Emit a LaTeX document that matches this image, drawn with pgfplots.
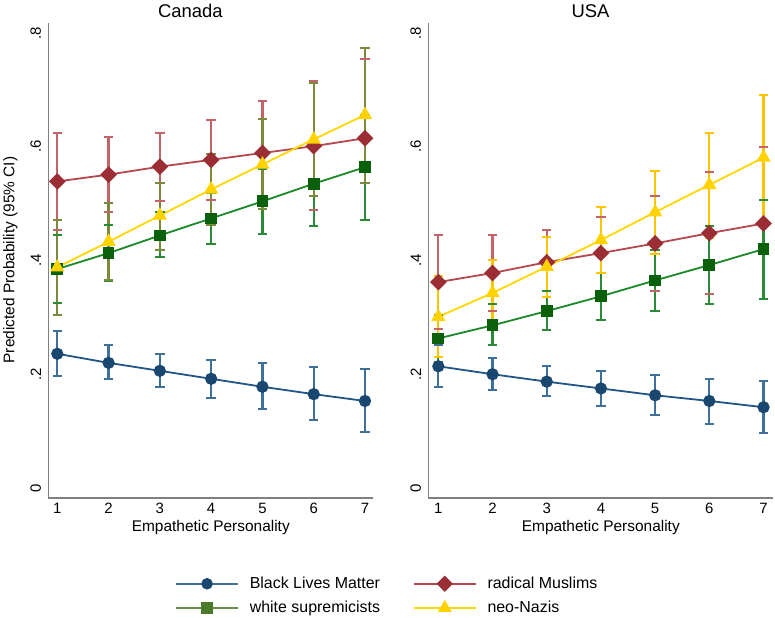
\documentclass[border=0pt]{standalone}
\usepackage{pgfplots}
\usepackage{pgfplotstable}
\pgfplotsset{compat=1.18}
\usepackage{fontspec}
\setmainfont{Liberation Sans}

\definecolor{blmM}{HTML}{1A476F}
\definecolor{blmL}{HTML}{1F5685}
\definecolor{blmC}{HTML}{3F7099}
\definecolor{redM}{HTML}{9B2D35}
\definecolor{redL}{HTML}{B5474F}
\definecolor{redC}{HTML}{C2646A}
\definecolor{grnM}{HTML}{0B600B}
\definecolor{grnL}{HTML}{1A8A26}
\definecolor{grnC}{HTML}{2A8A35}
\definecolor{grnLeg}{HTML}{4A7A2A}
\definecolor{yelM}{HTML}{FFD200}
\definecolor{yelL}{HTML}{FFD700}
\definecolor{yelCca}{HTML}{7A8A3A}
\definecolor{yelCus}{HTML}{FFC400}
\definecolor{axgray}{HTML}{808080}

% Canada
\pgfplotstableread{
x y lo hi
1 0.236 0.197 0.276
2 0.220 0.191 0.251
3 0.206 0.177 0.235
4 0.192 0.159 0.225
5 0.178 0.139 0.219
6 0.165 0.119 0.213
7 0.153 0.099 0.209
}\caBLM
\pgfplotstableread{
x y lo hi
1 0.539 0.453 0.625
2 0.551 0.485 0.618
3 0.565 0.504 0.625
4 0.577 0.507 0.647
5 0.589 0.499 0.680
6 0.601 0.488 0.716
7 0.615 0.472 0.755
}\caRM
\pgfplotstableread{
x y lo hi
1 0.385 0.325 0.445
2 0.413 0.364 0.462
3 0.444 0.406 0.485
4 0.474 0.429 0.519
5 0.504 0.447 0.561
6 0.535 0.460 0.610
7 0.564 0.472 0.656
}\caWS
\pgfplotstableread{
x y lo hi
1 0.388 0.304 0.472
2 0.433 0.365 0.501
3 0.479 0.418 0.537
4 0.525 0.462 0.588
5 0.569 0.490 0.648
6 0.613 0.513 0.712
7 0.656 0.537 0.773
}\caNN
% USA
\pgfplotstableread{
x y lo hi
1 0.214 0.177 0.251
2 0.200 0.172 0.229
3 0.187 0.161 0.214
4 0.175 0.145 0.205
5 0.163 0.129 0.198
6 0.153 0.113 0.192
7 0.142 0.096 0.188
}\usBLM
\pgfplotstableread{
x y lo hi
1 0.362 0.280 0.444
2 0.378 0.312 0.444
3 0.397 0.336 0.454
4 0.413 0.347 0.477
5 0.430 0.347 0.513
6 0.448 0.341 0.556
7 0.465 0.332 0.600
}\usRM
\pgfplotstableread{
x y lo hi
1 0.263 0.221 0.305
2 0.286 0.251 0.323
3 0.311 0.277 0.346
4 0.337 0.296 0.378
5 0.365 0.311 0.418
6 0.392 0.323 0.461
7 0.420 0.333 0.507
}\usWS
\pgfplotstableread{
x y lo hi
1 0.301 0.230 0.372
2 0.343 0.285 0.401
3 0.389 0.336 0.442
4 0.436 0.378 0.494
5 0.485 0.412 0.557
6 0.533 0.440 0.625
7 0.581 0.470 0.691
}\usNN

\pgfplotsset{
  ci/.style={draw=none, forget plot,
    error bars/y dir=both, error bars/y explicit,
    error bars/error mark=none,
    error bars/error bar style={draw=#1, line width=2.2bp, solid}},
  cap/.style={only marks, forget plot, mark=-, mark size=4.7bp,
    mark options={draw=#1, line width=2bp, solid}},
  blm/.style={color=blmL, line width=1.8bp, mark=*, mark size=5.2bp,
    mark options={fill=blmM, draw=blmM, solid}, forget plot},
  rm/.style={color=redL, line width=1.8bp, mark=square*, mark size=5bp,
    mark options={fill=redM, draw=redM, solid, rotate=45}, forget plot},
  ws/.style={color=grnL, line width=1.8bp, mark=square*, mark size=5bp,
    mark options={fill=grnM, draw=grnM, solid}, forget plot},
  nn/.style={color=yelL, line width=1.8bp, mark=triangle*, mark size=6.5bp,
    mark options={fill=yelM, draw=yelM, solid}, forget plot},
  panel/.style={
    scale only axis, height=475bp,
    ymin=-0.0176, ymax=0.8176,
    axis x line*=bottom, axis y line*=left,
    axis line style={-, color=axgray, line width=1.3bp},
    xtick={1,2,3,4,5,6,7}, xticklabels={1,2,3,4,5,6,7},
    ytick={0,0.2,0.4,0.6,0.8}, yticklabels={0,.2,.4,.6,.8},
    major tick length=0pt,
    tick label style={font=\fontsize{15}{18}\selectfont, black},
    xticklabel style={inner sep=0pt, anchor=north},
    xticklabel shift=5bp,
    yticklabel style={rotate=90, anchor=south, inner sep=0pt},
    yticklabel shift=7bp,
    xlabel={Empathetic Personality},
    xlabel style={font=\fontsize{15.5}{18}\selectfont, at={(axis description cs:0.5,-0.062)}, anchor=center},
    every axis title shift=0pt,
    title style={font=\fontsize{18.5}{22}\selectfont, anchor=center, yshift=0pt},
    clip=false,
  },
}

\newcommand\ciplots[2]{%
  \addplot[ci=#2] table[x=x, y=y, y error plus expr=\thisrow{hi}-\thisrow{y}, y error minus expr=\thisrow{y}-\thisrow{lo}] {#1};
  \addplot[cap=#2] table[x=x, y=hi] {#1};
  \addplot[cap=#2] table[x=x, y=lo] {#1};
}

\begin{document}
\begin{tikzpicture}
\path[use as bounding box] (0,0) rectangle (775bp,618bp);

\begin{axis}[panel, at={(48.3bp,120bp)}, anchor=south west,
  width=325bp, xmin=0.8245, xmax=7.162,
  title={Canada}, title style={at={(axis description cs:0.437,1.0253)}},
  ylabel={Predicted Probability (95\% CI)},
  ylabel style={font=\fontsize{15.5}{18}\selectfont, at={(axis description cs:-0.117,0.501)}, anchor=center},
  legend columns=2,
  legend cell align=left,
  legend style={at={(axis description cs:0.381,-0.158)}, anchor=north west,
    draw=none, fill=none, font=\fontsize{16}{19}\selectfont,
    /tikz/every odd column/.append style={column sep=9bp},
    /tikz/every even column/.append style={column sep=31bp},
    row sep=7bp},
  legend image code/.code={\draw[mark repeat=2,mark phase=2] plot coordinates {(0bp,0bp)(31bp,0bp)(62bp,0bp)};},
]
\ciplots{\caBLM}{blmC}
\ciplots{\caRM}{redC}
\ciplots{\caWS}{grnC}
\ciplots{\caNN}{yelCca}
\addplot[blm] table[x=x, y=y] {\caBLM};
\addplot[rm] table[x=x, y=y] {\caRM};
\addplot[ws] table[x=x, y=y] {\caWS};
\addplot[nn] table[x=x, y=y] {\caNN};

\addlegendimage{color=blmC, line width=1.5bp, mark=*, mark size=5bp, mark options={fill=blmM, draw=blmM}}
\addlegendentry{Black Lives Matter}
\addlegendimage{color=redL, line width=1.5bp, mark=square*, mark size=5bp, mark options={fill=redM, draw=redM, rotate=45}}
\addlegendentry{radical Muslims}
\addlegendimage{color=grnLeg!85!white, line width=1.5bp, mark=square*, mark size=5bp, mark options={fill=grnLeg, draw=grnLeg}}
\addlegendentry{white supremicists}
\addlegendimage{color=yelL, line width=1.5bp, mark=triangle*, mark size=6.5bp, mark options={fill=yelM, draw=yelM}}
\addlegendentry{neo-Nazis}
\end{axis}

\begin{axis}[panel, at={(428.3bp,120bp)}, anchor=south west,
  width=345bp, xmin=0.815, xmax=7.18,
  title={USA}, title style={at={(axis description cs:0.470,1.0253)}},
]
\ciplots{\usBLM}{blmC}
\ciplots{\usRM}{redC}
\ciplots{\usWS}{grnC}
\ciplots{\usNN}{yelCus}
\addplot[blm] table[x=x, y=y] {\usBLM};
\addplot[rm] table[x=x, y=y] {\usRM};
\addplot[ws] table[x=x, y=y] {\usWS};
\addplot[nn] table[x=x, y=y] {\usNN};
\end{axis}
\end{tikzpicture}
\end{document}
